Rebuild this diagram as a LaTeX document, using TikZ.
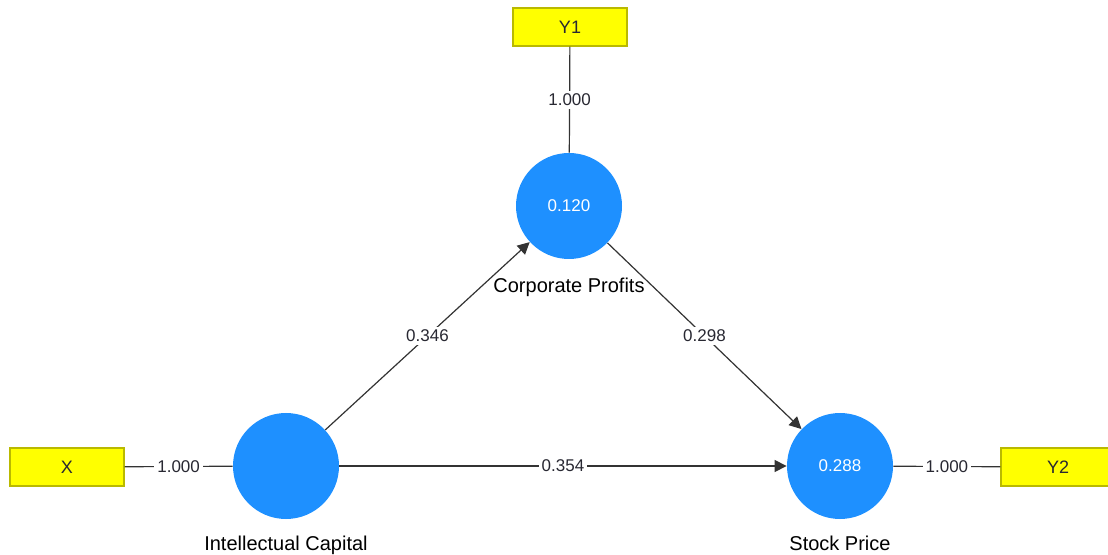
\documentclass[tikz,border=0pt]{standalone}
\usepackage{fontspec}
\setmainfont{Liberation Sans}
\usetikzlibrary{arrows.meta}
\definecolor{lvblue}{RGB}{30,144,255}
\definecolor{mvyellow}{RGB}{255,255,0}
\definecolor{mvborder}{RGB}{185,185,0}
\definecolor{txtgray}{RGB}{40,40,50}
\begin{document}
\begin{tikzpicture}[x=0.5pt,y=-0.5pt,
    latent/.style={circle,fill=lvblue,minimum size=53pt,inner sep=0pt,text=white,
        font=\fontsize{8.5}{10}\selectfont,
        every label/.style={text=txtgray,font=\fontsize{8.5}{10}\selectfont}},
    indicator/.style={rectangle,fill=mvyellow,draw=mvborder,line width=0.6pt,
        minimum width=57pt,minimum height=19pt,inner sep=0pt,text=txtgray,
        font=\fontsize{9}{11}\selectfont},
    loading/.style={draw=black!80,line width=0.6pt},
    pathline/.style={draw=black!80,line width=0.6pt,-{Triangle[length=6pt,width=6pt]}},
    coef/.style={fill=white,inner sep=1.5pt,text=txtgray,font=\fontsize{8.5}{10}\selectfont}]
\useasboundingbox (0,0) rectangle (1108,555);
% latent variables
\node[latent,label={[label distance=6pt]below:Corporate Profits}](CP) at (569,206){0.120};
\node[latent,label={[label distance=5pt]below:Intellectual Capital}](IC) at (286,466){};
\node[latent,label={[label distance=5pt]below:Stock Price}](SP) at (840,466){0.288};
% indicators
\node[indicator](Y1) at (570,27){Y1};
\node[indicator](X) at (67,467){X};
\node[indicator](Y2) at (1058,467){Y2};
% outer loadings
\draw[loading](Y1)--(CP) node[coef,midway]{1.000};
\draw[loading](X)--(IC) node[coef,midway]{1.000};
\draw[loading](SP)--(Y2) node[coef,midway]{1.000};
% paths
\draw[pathline](IC)--(CP) node[coef,midway]{0.346};
\draw[pathline](CP)--(SP) node[coef,midway]{0.298};
\draw[pathline](IC)--(SP) node[coef,midway]{0.354};
\end{tikzpicture}
\end{document}
